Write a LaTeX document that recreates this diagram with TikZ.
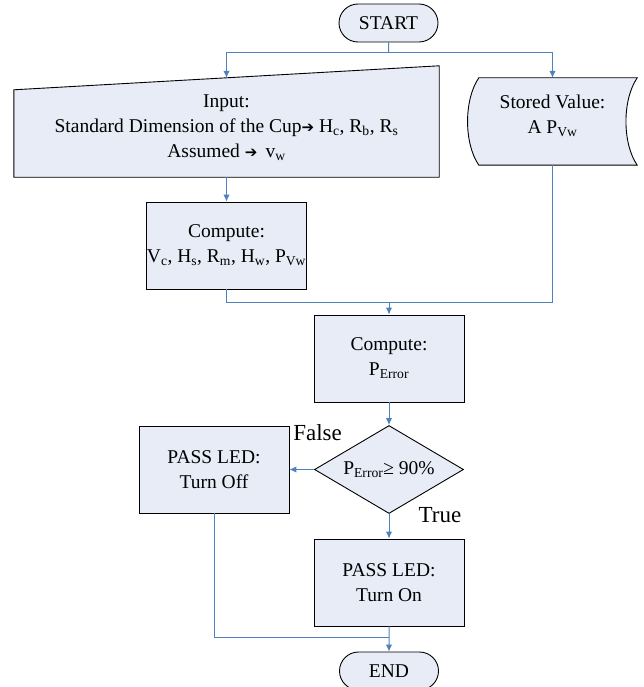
\documentclass[tikz,border=0pt]{standalone}
\usepackage{fontspec}
\setmainfont{Liberation Serif}
\newfontfamily\arrowfont{DejaVu Sans}
\usepackage{xcolor}
\usepackage{tikz}
\usetikzlibrary{arrows.meta,calc,positioning,shapes.geometric,shapes.misc}
\definecolor{boxfill}{RGB}{231,236,247}
\definecolor{flowblue}{RGB}{79,129,189}
\newcommand{\goesto}{{\arrowfont\fontsize{15}{15}\selectfont ➔}}

\begin{document}
\begin{tikzpicture}[x=1pt,y=1pt,-,auto,node distance=112pt,
  font=\fontsize{19.5}{25}\selectfont]
  \tikzstyle{every node}=[align=center, text=black]
  \tikzstyle{terminal}=[rounded rectangle, draw=black, fill=boxfill, line width=0.9pt, minimum width=99pt, minimum height=38pt, inner sep=0pt]
  \tikzstyle{process}=[rectangle, draw=black, fill=boxfill, line width=0.9pt, minimum width=150pt, minimum height=87pt, inner sep=0pt]
  \tikzstyle{decision}=[diamond, draw=black, fill=boxfill, line width=0.9pt, minimum width=149pt, minimum height=88pt, inner sep=0pt, aspect=1.7]
  \tikzstyle{outline}=[draw=black, fill=boxfill, line width=0.9pt]
  \tikzstyle{line}=[draw=flowblue, line width=1pt]
  \tikzstyle{flow}=[line, -{Latex[length=7pt,width=6.5pt]}]
  \tikzstyle{branch}=[font=\fontsize{23}{27}\selectfont]

  \useasboundingbox (0,0) rectangle (643,-687);

  \node[terminal] (start) at (388.5,-23) {START};

  % input and stored value are drawn by hand
  \node[minimum width=425pt, minimum height=111pt, inner sep=0pt] (input) at (226.5,-121.5) {};
  \path[outline] (input.south west) -- (input.south east) -- (input.north east)
    -- ($(input.north west)+(0,-24)$) -- cycle;
  \node (inputtext) at ($(input.center)+(0,-6.5)$)
    {Input:\\Standard Dimension of the Cup\goesto\ H\textsubscript{c}, R\textsubscript{b}, R\textsubscript{s}\\Assumed \goesto\ \,v\textsubscript{w}};

  \node[minimum width=169pt, minimum height=87pt, inner sep=0pt] (stored) at (552.5,-121.5) {};
  \path[outline] ($(stored.north west)+(11,0)$) -- (stored.north east)
    .. controls +(-15,-22) and +(-15,22) .. (stored.south east)
    -- ($(stored.south west)+(11,0)$)
    .. controls +(-15,22) and +(-15,-22) .. ($(stored.north west)+(11,0)$) -- cycle;
  \node (storedtext) at ($(stored.center)+(0,6)$) {Stored Value:\\A P\textsubscript{Vw}};

  \node[process] (dims) [below of=input, node distance=124pt]
    {Compute:\\V\textsubscript{c}, H\textsubscript{s}, R\textsubscript{m}, H\textsubscript{w}, P\textsubscript{Vw}};
  \node[process] (error) at (389,-358.5) {Compute:\\P\textsubscript{Error}};
  \node[decision] (check) [below of=error, node distance=111pt] {P\textsubscript{Error}≥ 90\%};
  \node[process] (ledoff) [left of=check, node distance=175pt] {PASS LED:\\Turn Off};
  \node[process] (ledon) [below of=check, node distance=113pt] {PASS LED:\\Turn On};
  \node[terminal] (finish) [below of=ledon, node distance=88.5pt] {END};

  \node[branch] (no) at ($(check.west)+(3.5,36.5)$) {False};
  \node[branch] (yes) at ($(check.south)+(51,-1.5)$) {True};

  \coordinate (fork) at ($(start.south)+(0,-10)$);
  \coordinate (slant) at ($(input.north west)+(0,-24)$);
  \coordinate (inputtop) at ($(slant)!0.5!(input.north east)$);
  \coordinate (merge) at ($(error.north)+(0,12)$);
  \coordinate (join) at ($(ledon.south)+(0,-11)$);

  \draw[line] (start) -- (fork);
  \draw[flow] (fork) -| (inputtop);
  \draw[flow] (fork) -| (stored.north);
  \draw[flow] (input.south) -- (dims.north);
  \draw[line] (dims.south) |- (stored.south |- merge) -- (stored.south);
  \draw[flow] (merge) -- (error);
  \draw[flow] (error) -- (check);
  \draw[flow] (check) -- (ledoff);
  \draw[flow] (check) -- (ledon);
  \draw[line] (ledoff.south) |- (join);
  \draw[flow] (ledon) -- (finish);

\end{tikzpicture}
\end{document}
